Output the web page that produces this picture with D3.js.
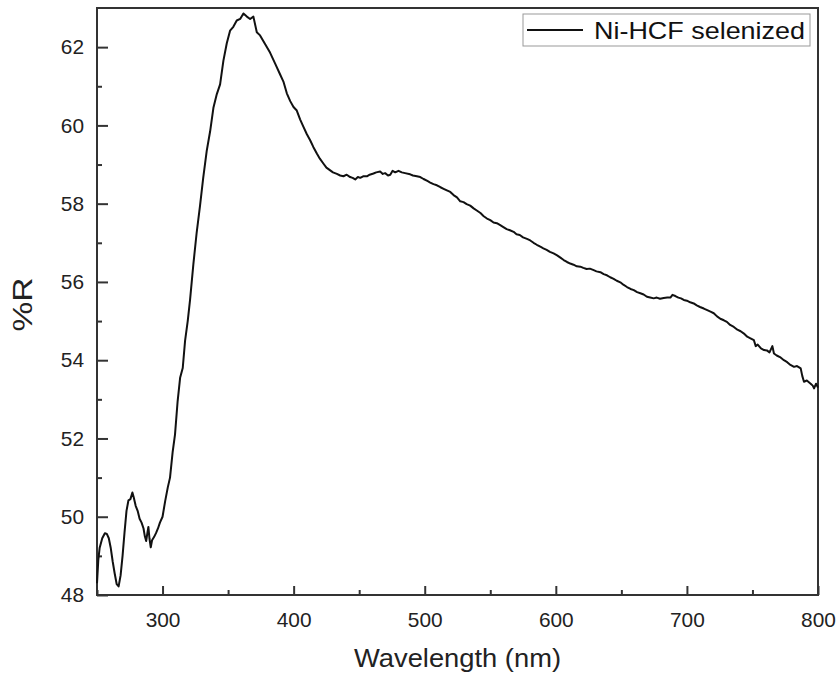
<!DOCTYPE html>
<html>
<head>
<meta charset="utf-8">
<script src="https://cdn.jsdelivr.net/npm/d3@7"></script>
<style>
    body { margin: 0; background: #fff; }
    svg { display: block; font-family: 'Liberation Sans', Arial, sans-serif; }
</style>
</head>
<body>
<div id="chart"></div>
<script>
// wavelength (nm) and reflectance (%R)
var wavelength = [
    250, 251, 252, 254, 256, 257.5, 259, 260.5, 262, 263.5, 265, 266.5, 268, 269.5, 271, 272.5,
    274, 275.5, 277, 278, 279.5, 281, 282.5, 284, 285.5, 286.5, 287.5, 288.5, 289.2, 290, 291, 292,
    293.5, 295, 296.5, 298, 300, 302, 304, 305.7, 307.7, 309.5, 311.5, 313.4, 315.4, 317.2, 319.2, 321,
    323.5, 326, 328.6, 331, 333.7, 336.3, 338.8, 341.4, 343.9, 346.4, 349, 351.5, 354, 356.6, 359.2, 361.7,
    364.3, 366.8, 369.3, 371.9, 374.4, 378.2, 382, 385.9, 389.7, 392.2, 394.8, 397.4, 399.9, 402.4, 405, 407.5,
    410, 412.6, 415, 417.7, 420, 422.8, 425, 427.9, 430, 433, 435.5, 438, 440.5, 443.1, 445, 447,
    449, 450.8, 453, 455.9, 458, 460.9, 463, 466, 468, 469.8, 472, 473.7, 475.5, 477.5, 480, 482.5,
    485, 488.9, 491, 494, 496.6, 499.1, 502, 504.2, 506.7, 509.3, 512, 514.4, 516.9, 519.5, 522, 524.6,
    527.1, 529.6, 532, 534.7, 537.3, 540, 542.5, 545, 547.5, 550, 552.5, 555, 557.6, 560, 562.5, 565,
    567.8, 570, 572.5, 575, 578, 580.5, 583, 585.5, 588.2, 590.5, 593, 595.5, 598.3, 601, 603.5, 606,
    608.5, 611, 613.5, 616, 618.7, 621, 623.5, 626, 628.9, 631, 634, 636.5, 639, 641.5, 644.1, 646.5,
    649.2, 651.5, 654.3, 657, 659.5, 662, 664.5, 667, 669.5, 672, 674.7, 677, 679.5, 682.3, 685, 687.4,
    689, 691.2, 693.5, 695.5, 697.6, 700, 702.5, 705.2, 707.5, 710, 712.9, 715.5, 718, 720.5, 723, 725.5,
    728.2, 730.5, 733, 735.8, 738.5, 741, 743.5, 746, 748.5, 751.1, 752.5, 754, 756.5, 758.8, 761, 763,
    765.2, 766.4, 768.5, 771, 774, 776.5, 779, 781.7, 784, 786.8, 788, 789.3, 791.5, 794.4, 796, 797,
    798.5, 800
];
var reflectance = [
    48.3, 48.9, 49.2, 49.45, 49.58, 49.56, 49.45, 49.2, 48.85, 48.55, 48.28, 48.22, 48.5, 49.0, 49.6, 50.15,
    50.42, 50.45, 50.62, 50.5, 50.28, 50.15, 49.95, 49.85, 49.7, 49.5, 49.38, 49.6, 49.74, 49.45, 49.22, 49.4,
    49.48, 49.58, 49.7, 49.85, 50.0, 50.4, 50.75, 51.0, 51.65, 52.1, 52.95, 53.55, 53.8, 54.5, 55.0, 55.55,
    56.45, 57.25, 57.95, 58.65, 59.35, 59.85, 60.45, 60.8, 61.05, 61.65, 62.1, 62.42, 62.52, 62.68, 62.72, 62.86,
    62.78, 62.72, 62.78, 62.38, 62.3, 62.08, 61.86, 61.58, 61.3, 61.12, 60.82, 60.62, 60.47, 60.38, 60.15, 59.96,
    59.78, 59.62, 59.45, 59.28, 59.15, 59.02, 58.92, 58.85, 58.8, 58.76, 58.72, 58.7, 58.74, 58.68, 58.66, 58.62,
    58.68, 58.66, 58.7, 58.7, 58.74, 58.77, 58.8, 58.82, 58.76, 58.78, 58.72, 58.74, 58.84, 58.8, 58.84, 58.8,
    58.78, 58.75, 58.72, 58.7, 58.68, 58.63, 58.58, 58.54, 58.5, 58.47, 58.42, 58.38, 58.34, 58.3, 58.22, 58.16,
    58.06, 58.04, 57.99, 57.95, 57.88, 57.82, 57.76, 57.68, 57.62, 57.58, 57.52, 57.5, 57.45, 57.4, 57.35, 57.32,
    57.28, 57.22, 57.2, 57.14, 57.1, 57.06, 57.0, 56.95, 56.9, 56.86, 56.82, 56.77, 56.73, 56.68, 56.62, 56.56,
    56.51, 56.47, 56.44, 56.4, 56.39, 56.36, 56.33, 56.34, 56.3, 56.27, 56.25, 56.2, 56.17, 56.12, 56.08, 56.03,
    55.99, 55.93, 55.87, 55.82, 55.79, 55.74, 55.71, 55.68, 55.62, 55.6, 55.58, 55.6, 55.57, 55.59, 55.6, 55.6,
    55.67, 55.64, 55.6, 55.58, 55.54, 55.52, 55.48, 55.45, 55.4, 55.36, 55.32, 55.28, 55.24, 55.2, 55.12, 55.06,
    55.02, 54.98, 54.9, 54.85, 54.78, 54.74, 54.68, 54.6, 54.56, 54.51, 54.36, 54.4, 54.3, 54.26, 54.25, 54.2,
    54.36, 54.17, 54.12, 54.08, 54.0, 53.95, 53.88, 53.83, 53.85, 53.79, 53.6, 53.45, 53.48, 53.4, 53.35, 53.28,
    53.4, 53.3
];
var xTicks = [300, 400, 500, 600, 700, 800];
var yTicks = [48, 50, 52, 54, 56, 58, 60, 62];
var seriesName = 'Ni-HCF selenized';

function drawSpectrum(id) {
    var width = 838
    var height = 677
    var margin = {top: 8, right: 20, bottom: 82, left: 97}
    var axisColor = '#333'

    var data = wavelength.map((w, i) => ({x: w, y: reflectance[i]}))

    var svg = d3.select('#' + id)
        .append('svg')
        .attr('width', width)
        .attr('height', height)

    var x = d3.scaleLinear()
        .domain([250, 800])
        .range([margin.left, width - margin.right])
    var y = d3.scaleLinear()
        .domain([48, 63])
        .range([height - margin.bottom, margin.top])

    // minor ticks halfway between the labelled ones
    var xMinor = d3.range(250, 801, 50).filter(v => xTicks.indexOf(v) < 0)
    var yMinor = d3.range(49, 63, 2)

    svg.append('g')
        .attr('transform', `translate(0,${y.range()[0]})`)
        .call(d3.axisBottom(x).tickValues(xTicks).tickSizeInner(-9).tickSizeOuter(0).tickPadding(17))
    svg.append('g')
        .attr('transform', `translate(${x.range()[0]},0)`)
        .call(d3.axisLeft(y).tickValues(yTicks).tickSizeInner(-11).tickSizeOuter(0).tickPadding(13))

    svg.append('g')
        .attr('transform', `translate(0,${y.range()[0]})`)
        .call(d3.axisBottom(x).tickValues(xMinor).tickSizeInner(-5).tickSizeOuter(0).tickFormat(''))
    svg.append('g')
        .attr('transform', `translate(${x.range()[0]},0)`)
        .call(d3.axisLeft(y).tickValues(yMinor).tickSizeInner(-5).tickSizeOuter(0).tickFormat(''))

    svg.selectAll('.tick line').attr('stroke', axisColor).attr('stroke-width', 2)
    svg.selectAll('.domain').remove()
    svg.selectAll('.tick text')
        .attr('fill', '#222')
        .style('font-size', '21px')
        .attr('textLength', d => String(d).length * 11.6)
        .attr('lengthAdjust', 'spacingAndGlyphs')

    // frame round the plot
    svg.append('rect')
        .attr('x', x.range()[0])
        .attr('y', y.range()[1])
        .attr('width', x.range()[1] - x.range()[0])
        .attr('height', y.range()[0] - y.range()[1])
        .attr('fill', 'none')
        .attr('stroke', axisColor)
        .attr('stroke-width', 2)

    var line = d3.line()
        .x(d => x(d.x))
        .y(d => y(d.y))

    svg.append('path')
        .datum(data)
        .attr('d', line)
        .attr('fill', 'none')
        .attr('stroke', '#111')
        .attr('stroke-width', 2)
        .attr('stroke-linejoin', 'round')

    svg.append('text')
        .attr('x', (x.range()[0] + x.range()[1]) / 2)
        .attr('y', 667)
        .attr('text-anchor', 'middle')
        .attr('fill', '#222')
        .style('font-size', '25px')
        .attr('textLength', 207)
        .attr('lengthAdjust', 'spacingAndGlyphs')
        .text('Wavelength (nm)')

    svg.append('text')
        .attr('transform', `translate(32,${(y.range()[0] + y.range()[1]) / 2 + 3}) rotate(-90)`)
        .attr('text-anchor', 'middle')
        .attr('fill', '#222')
        .style('font-size', '27px')
        .attr('textLength', 54)
        .attr('lengthAdjust', 'spacingAndGlyphs')
        .text('%R')

    drawLegend(svg)
}

function drawLegend(svg) {
    var legend = svg.append('g')
        .attr('transform', 'translate(523,14)')

    legend.append('rect')
        .attr('width', 287)
        .attr('height', 32)
        .attr('fill', '#fff')
        .attr('stroke', '#999')
        .attr('stroke-width', 1)

    legend.append('line')
        .attr('x1', 4)
        .attr('x2', 60)
        .attr('y1', 16)
        .attr('y2', 16)
        .attr('stroke', '#111')
        .attr('stroke-width', 2)

    legend.append('text')
        .attr('x', 71)
        .attr('y', 25)
        .attr('fill', '#111')
        .style('font-size', '24px')
        .attr('textLength', 211)
        .attr('lengthAdjust', 'spacingAndGlyphs')
        .text(seriesName)
}

drawSpectrum('chart')
</script>
</body>
</html>
